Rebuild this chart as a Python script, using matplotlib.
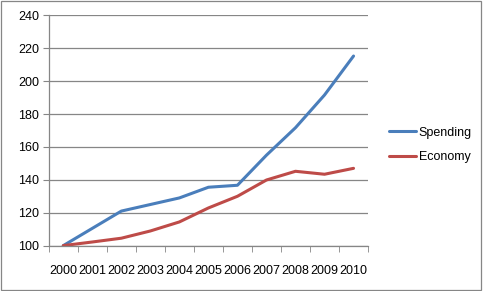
import matplotlib
matplotlib.use('Agg')
import matplotlib.pyplot as plt
import numpy as np
from matplotlib.patches import Rectangle

plt.rcParams['font.family'] = ['Liberation Sans', 'DejaVu Sans']

# data
years = ['2000', '2001', '2002', '2003', '2004', '2005', '2006', '2007', '2008', '2009', '2010']
spending = [100, 110.5, 121, 125, 129, 135.5, 136.7, 155, 171.7, 191.6, 215.3]
economy = [100, 102.2, 104.5, 108.9, 114.4, 122.9, 130, 139.9, 145.2, 143.4, 147]

fig = plt.figure(figsize=(4.83, 2.91), dpi=100)
ax = fig.add_axes([0.101, 0.156, 0.661, 0.791])

x = np.arange(len(years))
ax.plot(x, spending, color='#4A7EBB', lw=2.2, label='Spending', solid_capstyle='round')
ax.plot(x, economy, color='#BE4B48', lw=2.2, label='Economy', solid_capstyle='round')

ax.set_xlim(-0.5, len(years) - 0.5)
ax.set_ylim(100, 240)
ax.set_yticks(range(100, 241, 20))
ax.grid(axis='y', color='#868686', lw=0.9)
ax.set_axisbelow(True)

# category labels at centers, tick marks at boundaries
ax.set_xticks(x)
ax.set_xticklabels(years)
ax.set_xticks(np.arange(-0.5, len(years)), minor=True)
ax.tick_params(axis='x', which='major', length=0, pad=14, labelsize=9)
ax.tick_params(axis='x', which='minor', length=4, color='#868686', direction='out')
ax.tick_params(axis='y', length=4, color='#868686', labelsize=9, pad=3)

for s in ['top', 'right']:
    ax.spines[s].set_visible(False)
for s in ['left', 'bottom']:
    ax.spines[s].set_color('#868686')
    ax.spines[s].set_linewidth(0.9)

ax.legend(loc='center left', bbox_to_anchor=(1.03, 0.437), frameon=False,
          fontsize=9, handlelength=2.2, handletextpad=0.2, labelspacing=1.0)

fig.patches.append(Rectangle((0.002, 0.003), 0.994, 0.992, transform=fig.transFigure,
                             fill=False, edgecolor='#868686', lw=0.9))

plt.savefig('out.png', dpi=100)
